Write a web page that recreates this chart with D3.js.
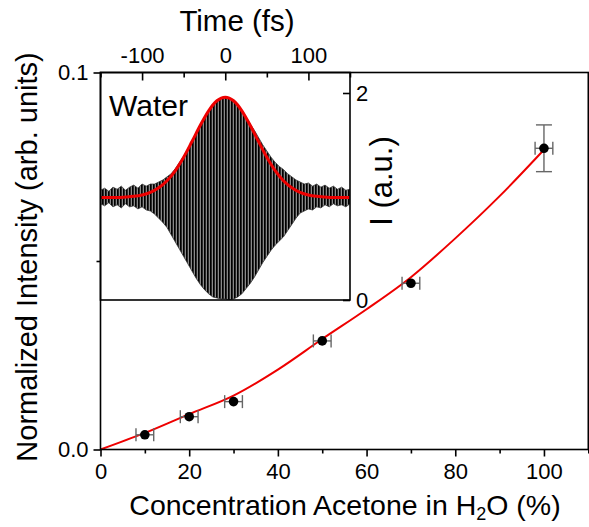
<!DOCTYPE html>
<html>
<head>
<meta charset="utf-8">
<script src="https://d3js.org/d3.v7.min.js"></script>
<style>
  body { margin: 0; background: #fff; }
  svg { display: block; }
  text { font-family: "Liberation Sans", Arial, sans-serif; fill: #000; }
  .axis path.domain { display: none; }
  .axis line { stroke: #000; stroke-width: 1.6; }
  .axis text { font-size: 22px; }
</style>
</head>
<body>
<div id="chart"></div>
<script>
// main data: concentration of acetone (%) vs normalized intensity
var concentration = [10, 20, 30, 50, 70, 100];
var intensity = [0.0039, 0.0087, 0.0127, 0.0288, 0.0441, 0.0799];
var concErr = [2, 2, 2, 2, 2, 2];
var intensityErr = [0, 0, 0, 0, 0, 0.0062];

// red fit curve
var fitConc = [0, 10, 20, 30, 40, 50, 60, 70, 80, 90, 100];
var fitIntensity = [0, 0.0044, 0.0094, 0.0143, 0.0212, 0.0293, 0.0372, 0.0457, 0.0560, 0.0672, 0.0795];

// inset: water signal, time in fs
var insetTime = [-150, -145, -140, -135, -130, -125, -120, -115, -110, -105, -100, -95, -90, -85, -80, -75, -70, -65, -60, -55, -50, -45, -40, -35, -30, -25, -20, -15, -10, -5, 0, 5, 10, 15, 20, 25, 30, 35, 40, 45, 50, 55, 60, 65, 70, 75, 80, 85, 90, 95, 100, 105, 110, 115, 120, 125, 130, 135, 140, 145, 150];
var signalUpper = [1.06, 1.08, 1.05, 1.09, 1.07, 1.10, 1.06, 1.09, 1.11, 1.08, 1.12, 1.10, 1.12, 1.12, 1.14, 1.16, 1.19, 1.22, 1.27, 1.33, 1.39, 1.46, 1.53, 1.61, 1.69, 1.76, 1.83, 1.89, 1.93, 1.95, 1.96, 1.95, 1.92, 1.88, 1.83, 1.77, 1.70, 1.64, 1.57, 1.50, 1.44, 1.38, 1.33, 1.29, 1.26, 1.22, 1.19, 1.16, 1.14, 1.12, 1.13, 1.10, 1.12, 1.09, 1.11, 1.08, 1.10, 1.07, 1.09, 1.06, 1.07];
var signalLower = [0.93, 0.91, 0.94, 0.90, 0.92, 0.89, 0.93, 0.90, 0.91, 0.88, 0.90, 0.87, 0.86, 0.83, 0.79, 0.75, 0.70, 0.63, 0.56, 0.49, 0.42, 0.35, 0.28, 0.21, 0.15, 0.10, 0.06, 0.03, 0.02, 0.01, 0.01, 0.00, 0.01, 0.03, 0.06, 0.11, 0.16, 0.22, 0.29, 0.36, 0.42, 0.48, 0.53, 0.57, 0.61, 0.67, 0.73, 0.79, 0.84, 0.86, 0.88, 0.87, 0.90, 0.89, 0.92, 0.90, 0.93, 0.91, 0.92, 0.90, 0.93];
var envTime = [-150, -140, -130, -120, -110, -100, -90, -80, -70, -60, -50, -40, -30, -20, -10, 0, 10, 20, 30, 40, 50, 60, 70, 80, 90, 100, 110, 120, 130, 140, 150];
var envelope = [0.99, 0.99, 0.99, 0.995, 1.002, 1.015, 1.04, 1.084, 1.152, 1.25, 1.379, 1.531, 1.688, 1.828, 1.925, 1.96, 1.925, 1.828, 1.688, 1.531, 1.379, 1.25, 1.152, 1.084, 1.04, 1.015, 1.002, 0.995, 0.99, 0.99, 0.99];

var width = 589, height = 527;

var svg = d3.select('#chart').append('svg')
  .attr('width', width)
  .attr('height', height);

var x = d3.scaleLinear().domain([0, 110]).range([100.5, 588.3]);
var y = d3.scaleLinear().domain([0, 0.1]).range([449.5, 72.5]);

var tx = d3.scaleLinear().domain([-150, 150]).range([100.5, 350]);
var ty = d3.scaleLinear().domain([0, 2]).range([300, 93]);

var defs = svg.append('defs');
defs.append('clipPath').attr('id', 'insetClip')
  .append('rect')
  .attr('x', tx(-150)).attr('y', y(0.1))
  .attr('width', tx(150) - tx(-150)).attr('height', ty(0) - y(0.1));

// fringes of the water trace
var pat = defs.append('pattern').attr('id', 'fringes')
  .attr('patternUnits', 'userSpaceOnUse')
  .attr('width', 3).attr('height', 10);
pat.append('rect').attr('width', 3).attr('height', 10).attr('fill', '#8a8a8a');
pat.append('rect').attr('width', 1).attr('height', 10).attr('fill', '#000');
pat.append('rect').attr('x', 1).attr('width', 1).attr('height', 10).attr('fill', '#2a2a2a');

// ---- inset ----
var inset = svg.append('g');

inset.append('rect')
  .attr('x', tx(-150)).attr('y', y(0.1))
  .attr('width', tx(150) - tx(-150)).attr('height', ty(0) - y(0.1))
  .attr('fill', '#fff');

var signal = insetTime.map(function (t, i) {
  return { t: t, hi: signalUpper[i], lo: signalLower[i] };
});

inset.append('path')
  .datum(signal)
  .attr('clip-path', 'url(#insetClip)')
  .attr('fill', 'url(#fringes)')
  .attr('stroke', '#333')
  .attr('stroke-width', 0.8)
  .attr('d', d3.area()
    .x(function (d) { return tx(d.t); })
    .y0(function (d) { return ty(d.lo); })
    .y1(function (d) { return ty(d.hi); }));

inset.append('path')
  .datum(envTime.map(function (t, i) { return [t, envelope[i]]; }))
  .attr('clip-path', 'url(#insetClip)')
  .attr('fill', 'none')
  .attr('stroke', '#ee0000')
  .attr('stroke-width', 3)
  .attr('d', d3.line()
    .curve(d3.curveMonotoneX)
    .x(function (d) { return tx(d[0]); })
    .y(function (d) { return ty(d[1]); }));

inset.append('rect')
  .attr('x', tx(-150)).attr('y', y(0.1))
  .attr('width', tx(150) - tx(-150)).attr('height', ty(0) - y(0.1))
  .attr('fill', 'none').attr('stroke', '#000').attr('stroke-width', 1.6);

inset.append('g').attr('class', 'axis')
  .attr('transform', 'translate(0,' + y(0.1) + ')')
  .call(d3.axisTop(tx).tickValues([-100, 0, 100]).tickSize(-8).tickPadding(10)
    .tickFormat(function (d) { return String(d); }));
inset.append('g').attr('class', 'axis')
  .attr('transform', 'translate(0,' + y(0.1) + ')')
  .call(d3.axisTop(tx).tickValues([-150, -50, 50, 150]).tickSize(-5).tickFormat(''));

inset.append('g').attr('class', 'axis')
  .attr('transform', 'translate(' + tx(150) + ',0)')
  .call(d3.axisRight(ty).tickValues([0, 2]).tickSize(-7).tickPadding(6)
    .tickFormat(d3.format('d')));

inset.append('text')
  .attr('x', 109).attr('y', 116)
  .style('font-size', '30px')
  .text('Water');

svg.append('text')
  .attr('x', 237).attr('y', 31)
  .attr('text-anchor', 'middle')
  .style('font-size', '29.5px')
  .text('Time (fs)');

svg.append('text')
  .attr('transform', 'translate(392,181) rotate(-90)')
  .attr('text-anchor', 'middle')
  .style('font-size', '31px')
  .text('I (a.u.)');

// ---- main plot ----
svg.append('path')
  .datum(fitConc.map(function (c, i) { return [c, fitIntensity[i]]; }))
  .attr('fill', 'none')
  .attr('stroke', '#ee0000')
  .attr('stroke-width', 2)
  .attr('d', d3.line()
    .curve(d3.curveMonotoneX)
    .x(function (d) { return x(d[0]); })
    .y(function (d) { return y(d[1]); }));

var pts = svg.append('g').selectAll('g')
  .data(concentration.map(function (c, i) {
    return { c: c, v: intensity[i], ex: concErr[i], ey: intensityErr[i] };
  }))
  .enter().append('g');

var errColor = '#666';
// horizontal error bars
pts.append('line')
  .attr('x1', function (d) { return x(d.c - d.ex); })
  .attr('x2', function (d) { return x(d.c + d.ex); })
  .attr('y1', function (d) { return y(d.v); })
  .attr('y2', function (d) { return y(d.v); })
  .attr('stroke', errColor).attr('stroke-width', 1.4);
[-1, 1].forEach(function (s) {
  pts.append('line')
    .attr('x1', function (d) { return x(d.c + s * d.ex); })
    .attr('x2', function (d) { return x(d.c + s * d.ex); })
    .attr('y1', function (d) { return y(d.v) - 6.5; })
    .attr('y2', function (d) { return y(d.v) + 6.5; })
    .attr('stroke', errColor).attr('stroke-width', 1.4);
});
// vertical error bars
var vbar = pts.filter(function (d) { return d.ey > 0; });
vbar.append('line')
  .attr('x1', function (d) { return x(d.c); })
  .attr('x2', function (d) { return x(d.c); })
  .attr('y1', function (d) { return y(d.v - d.ey); })
  .attr('y2', function (d) { return y(d.v + d.ey); })
  .attr('stroke', errColor).attr('stroke-width', 1.4);
[-1, 1].forEach(function (s) {
  vbar.append('line')
    .attr('x1', function (d) { return x(d.c) - 8; })
    .attr('x2', function (d) { return x(d.c) + 8; })
    .attr('y1', function (d) { return y(d.v + s * d.ey); })
    .attr('y2', function (d) { return y(d.v + s * d.ey); })
    .attr('stroke', errColor).attr('stroke-width', 1.4);
});
pts.append('circle')
  .attr('cx', function (d) { return x(d.c); })
  .attr('cy', function (d) { return y(d.v); })
  .attr('r', 4.8)
  .attr('fill', '#000');

// frame + axes
svg.append('rect')
  .attr('x', x(0)).attr('y', y(0.1))
  .attr('width', x(110) - x(0)).attr('height', y(0) - y(0.1))
  .attr('fill', 'none').attr('stroke', '#000').attr('stroke-width', 1.6);

svg.append('g').attr('class', 'axis')
  .attr('transform', 'translate(0,' + y(0) + ')')
  .call(d3.axisBottom(x).tickValues([0, 20, 40, 60, 80, 100]).tickSize(7).tickPadding(7)
    .tickFormat(d3.format('d')));
svg.append('g').attr('class', 'axis')
  .attr('transform', 'translate(0,' + y(0) + ')')
  .call(d3.axisBottom(x).tickValues([10, 30, 50, 70, 90, 110]).tickSize(4).tickFormat(''));

svg.append('g').attr('class', 'axis')
  .attr('transform', 'translate(' + x(0) + ',0)')
  .call(d3.axisLeft(y).tickValues([0, 0.1]).tickSize(7).tickPadding(5)
    .tickFormat(d3.format('.1f')));
svg.append('g').attr('class', 'axis')
  .attr('transform', 'translate(' + x(0) + ',0)')
  .call(d3.axisLeft(y).tickValues([0.05]).tickSize(4).tickFormat(''));

var xTitle = svg.append('text')
  .attr('x', 345).attr('y', 515)
  .attr('text-anchor', 'middle')
  .style('font-size', '28.5px');
xTitle.append('tspan').text('Concentration Acetone in H');
xTitle.append('tspan').attr('dy', 5).style('font-size', '18px').text('2');
xTitle.append('tspan').attr('dy', -5).text('O (%)');

svg.append('text')
  .attr('transform', 'translate(37,257) rotate(-90)')
  .attr('text-anchor', 'middle')
  .style('font-size', '29px')
  .text('Normalized Intensity (arb. units)');
</script>
</body>
</html>
